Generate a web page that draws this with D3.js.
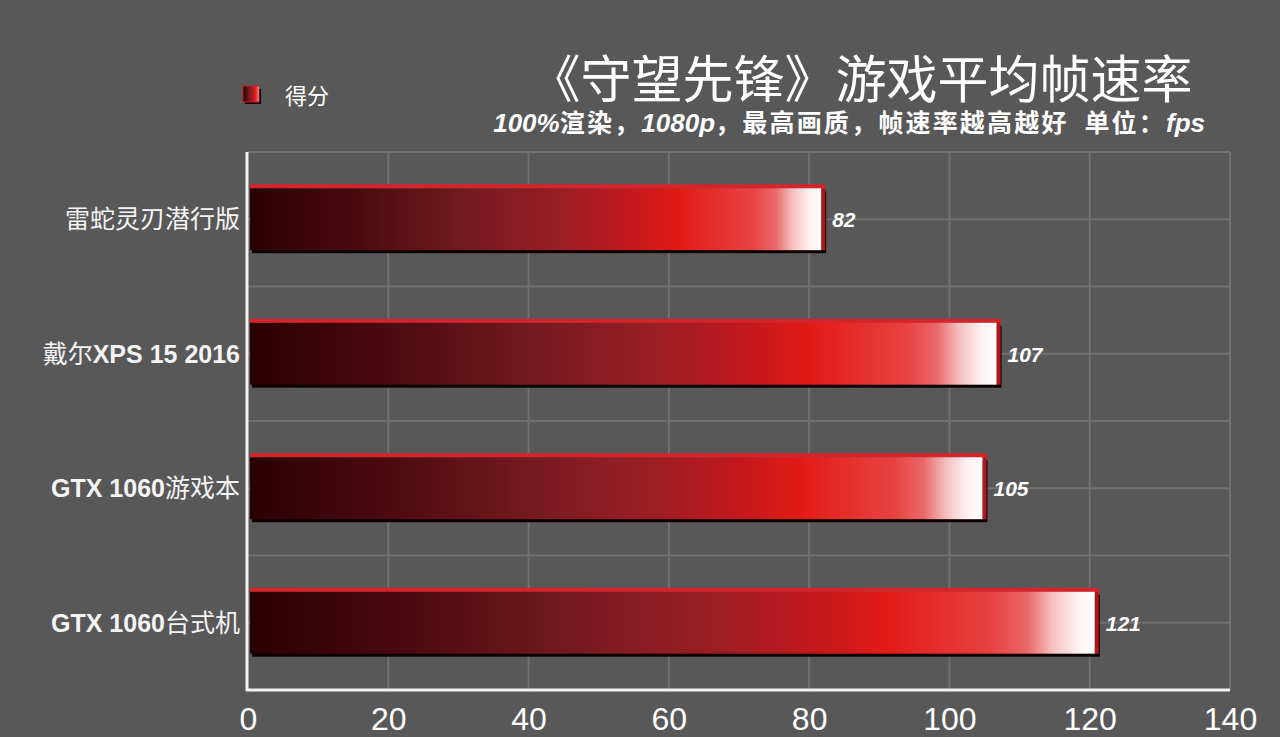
<!DOCTYPE html>
<html><head><meta charset="utf-8">
<script src="https://cdn.jsdelivr.net/npm/d3@7"></script>
<style>
html,body{margin:0;padding:0;background:#585858;}
svg{display:block;}
</style></head>
<body>
<svg id="chart" width="1280" height="737"></svg>
<script>
const categories = [
  [{t:"雷蛇灵刃潜行版", b:false}],
  [{t:"戴尔", b:false},{t:"XPS 15 2016", b:true}],
  [{t:"GTX 1060", b:true},{t:"游戏本", b:false}],
  [{t:"GTX 1060", b:true},{t:"台式机", b:false}]
];
const categoryKeys = ["雷蛇灵刃潜行版","戴尔XPS 15 2016","GTX 1060游戏本","GTX 1060台式机"];
const values = [82, 107, 105, 121];
const xTicks = [0, 20, 40, 60, 80, 100, 120, 140];
const title = "《守望先锋》游戏平均帧速率";
const subtitleParts = [
  {t:"100%", b:true},{t:"渲染，", b:false},{t:"1080p", b:true},
  {t:"，最高画质，帧速率越高越好\u00a0\u00a0单位：", b:false},{t:"fps", b:true}
];
const legendLabel = "得分";

const svg = d3.select("#chart");
const W = 1280, H = 737;
const m = {left:248, right:50, top:152, bottom:47};
const x = d3.scaleLinear().domain([0,140]).range([m.left, W - m.right]);
const y = d3.scaleBand().domain(categoryKeys).range([m.top, H - m.bottom]).paddingInner(0.54).paddingOuter(0.27);

svg.append("rect").attr("width",W).attr("height",H).attr("fill","#585858");

const defs = svg.append("defs");
const grad = defs.append("linearGradient").attr("id","barGrad").attr("x1","0").attr("x2","1").attr("y1","0").attr("y2","0");
[[0,"#2a0003"],[0.18,"#4a0a0f"],[0.38,"#741a1f"],[0.55,"#9c1e24"],[0.66,"#c0181d"],[0.75,"#e21a16"],
 [0.88,"#e84343"],[0.92,"#ea6868"],[0.95,"#f5c0c0"],[0.98,"#fff2f2"],[1,"#ffffff"]]
 .forEach(([o,c])=>grad.append("stop").attr("offset",o).attr("stop-color",c));

// grid
const grid = svg.append("g").attr("stroke","#717171").attr("stroke-width",2);
xTicks.slice(1).forEach(v=>{
  grid.append("line").attr("x1",x(v)).attr("x2",x(v)).attr("y1",m.top).attr("y2",H-m.bottom);
});
const yLines = d3.range(0, 9).map(i => m.top + i*(H-m.bottom-m.top)/8);
yLines.slice(0,8).forEach(yy=>{
  grid.append("line").attr("x1",m.left).attr("x2",x(140)).attr("y1",yy).attr("y2",yy);
});

// axis lines
svg.append("line").attr("x1",m.left-1).attr("x2",m.left-1).attr("y1",m.top).attr("y2",H-m.bottom+1)
  .attr("stroke","#f2f2f2").attr("stroke-width",3);
svg.append("line").attr("x1",m.left-2).attr("x2",x(140)).attr("y1",H-m.bottom).attr("y2",H-m.bottom)
  .attr("stroke","#f2f2f2").attr("stroke-width",3);

// bars
const bars = svg.append("g");
values.forEach((v,i)=>{
  const k = categoryKeys[i];
  const y0 = y(k), bh = y.bandwidth();
  const x0 = x(0)+2, w = x(v)-x(0)-2;
  bars.append("rect").attr("x",x0+2).attr("y",y0+3).attr("width",w+1).attr("height",bh).attr("fill","#0c0000");
  bars.append("rect").attr("x",x0+w-2).attr("y",y0-3).attr("width",4).attr("height",bh+3).attr("fill","#b81418");
  bars.append("rect").attr("x",x0).attr("y",y0-4).attr("width",w+2).attr("height",4).attr("fill","#d9232a");
  bars.append("rect").attr("x",x0).attr("y",y0).attr("width",w-2).attr("height",bh).attr("fill","url(#barGrad)");
  svg.append("text").attr("x",x(v)+9).attr("y",y0+bh/2+8)
    .attr("fill","#ffffff").attr("font-family","Liberation Sans, Arial, sans-serif")
    .attr("font-weight","bold").attr("font-style","italic").attr("font-size",21)
    .text(v);
});

// category labels
categories.forEach((parts,i)=>{
  const t = svg.append("text").attr("x",240).attr("y",y(categoryKeys[i])+y.bandwidth()/2+9)
    .attr("text-anchor","end").attr("fill","#f4f4f4").attr("font-size",25);
  parts.forEach(p=>{
    t.append("tspan").text(p.t)
      .attr("font-family", p.b ? "Liberation Sans, Arial, sans-serif" : "Noto Sans CJK SC, sans-serif")
      .attr("font-weight", p.b ? "bold" : "normal");
  });
});

// x tick labels
const xAxis = d3.axisBottom(x).tickValues(xTicks).tickSize(0).tickPadding(0);
const ax = svg.append("g").attr("transform",`translate(0,${H-m.bottom})`).call(xAxis);
ax.select(".domain").remove();
ax.selectAll("text").attr("y",40).attr("dy",0).attr("fill","#ffffff")
  .attr("font-family","Liberation Sans, Arial, sans-serif").attr("font-size",32);

// title
svg.append("text").attr("x",861).attr("y",98).attr("text-anchor","middle").attr("fill","#ffffff")
  .attr("font-family","Noto Sans CJK SC, sans-serif").attr("font-size",51).attr("font-weight","normal")
  .text(title);
const st = svg.append("text").attr("x",1205).attr("y",132).attr("text-anchor","end").attr("fill","#ffffff");
subtitleParts.forEach(p=>{
  st.append("tspan").text(p.t)
    .attr("font-family", p.b ? "Liberation Sans, Arial, sans-serif" : "Noto Sans CJK SC, sans-serif")
    .attr("font-weight", "bold")
    .attr("font-size", p.b ? 26 : 25)
    .attr("letter-spacing", p.b ? 0 : 2.2)
    .attr("font-style", p.b ? "italic" : "normal");
});

// legend
const lg = svg.append("g");
lg.append("rect").attr("x",245).attr("y",89).attr("width",16).attr("height",15).attr("fill","#0c0000");
lg.append("rect").attr("x",243).attr("y",86).attr("width",16).attr("height",16).attr("fill","url(#barGrad)")
  .attr("stroke","#c81a1e").attr("stroke-width",1);
lg.append("text").attr("x",285).attr("y",104).attr("fill","#ffffff")
  .attr("font-family","Noto Sans CJK SC, sans-serif").attr("font-size",22).text(legendLabel);
</script>
</body></html>
